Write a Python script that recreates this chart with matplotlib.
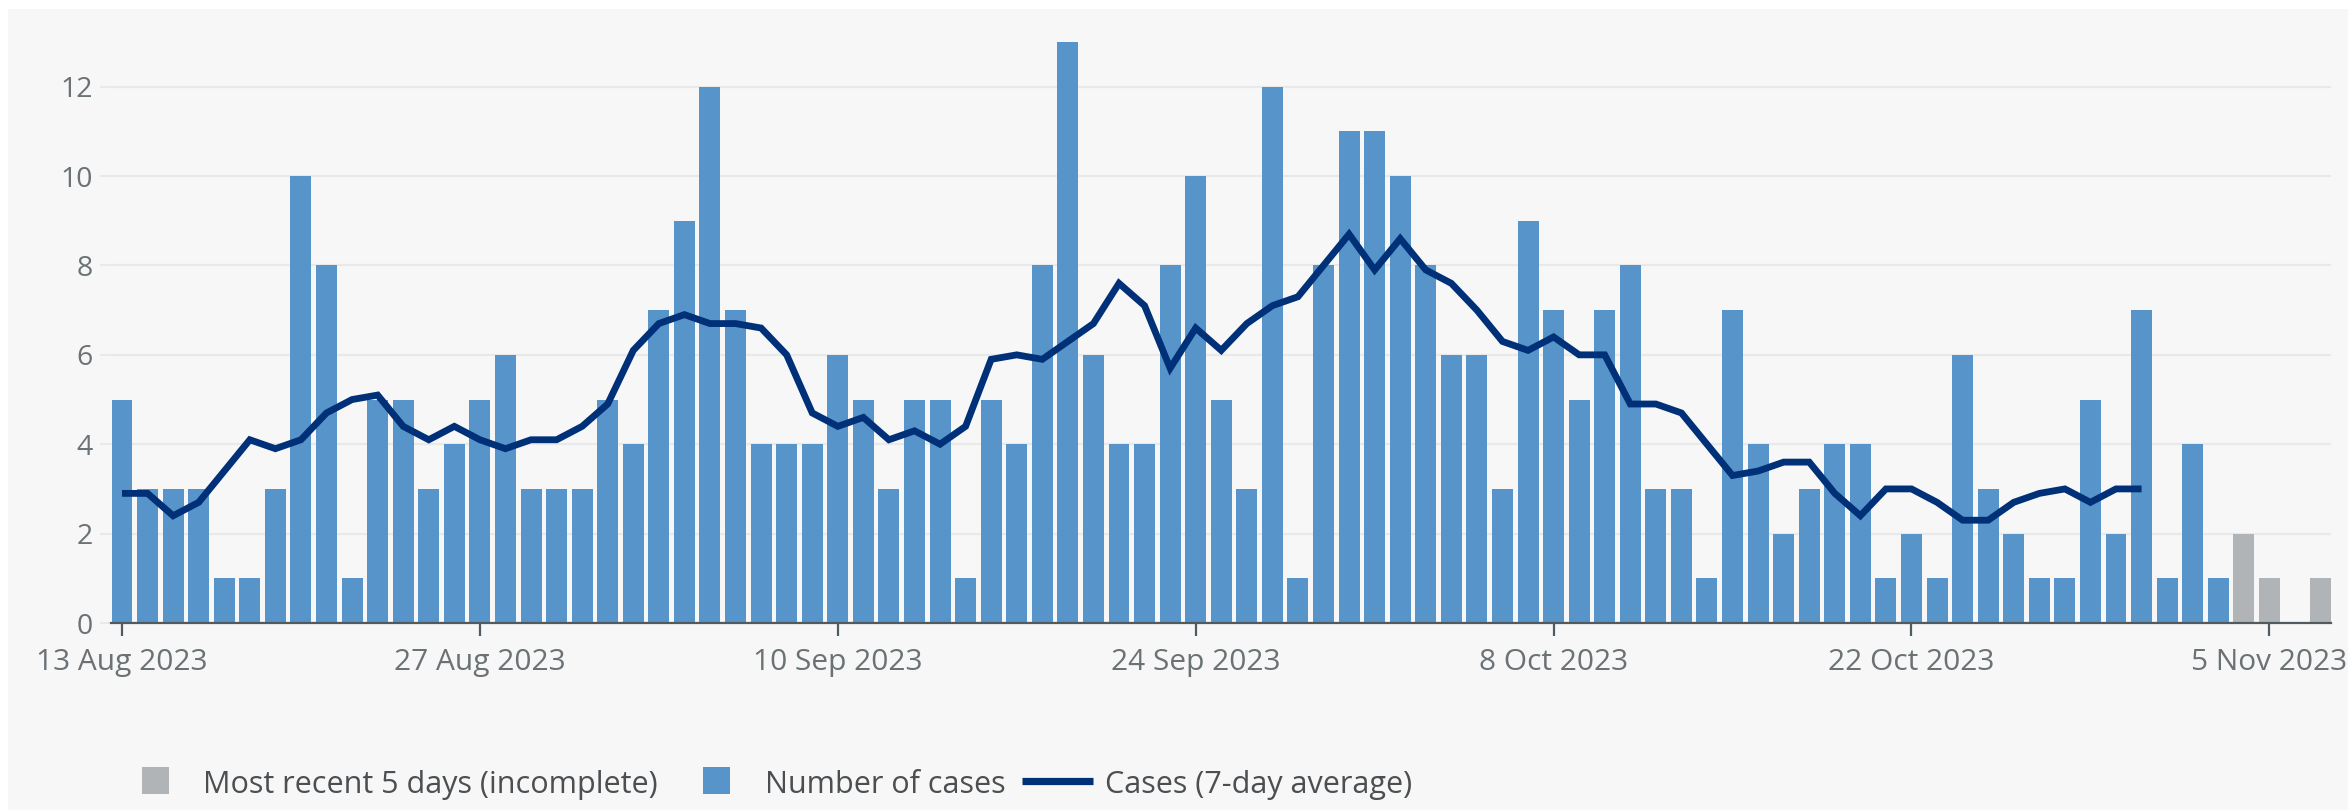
import matplotlib
matplotlib.use("Agg")
import matplotlib.pyplot as plt
import matplotlib.dates as mdates
from matplotlib.patches import Rectangle
from matplotlib.lines import Line2D
import pandas as pd
import numpy as np

plt.rcParams['font.family'] = ['Open Sans', 'DejaVu Sans']

# ---------------- data ----------------
start_date = "2023-08-13"
cases_complete = [
    # 13-31 Aug
    5, 3, 3, 3, 1, 1, 3, 10, 8, 1, 5, 5, 3, 4, 5, 6, 3, 3, 3,
    # 1-30 Sep
    5, 4, 7, 9, 12, 7, 4, 4, 4, 6, 5, 3, 5, 5, 1, 5, 4, 8, 13, 6,
    4, 4, 8, 10, 5, 3, 12, 1, 8, 11,
    # 1-31 Oct
    11, 10, 8, 6, 6, 3, 9, 7, 5, 7, 8, 3, 3, 1, 7, 4, 2, 3, 4, 4,
    1, 2, 1, 6, 3, 2, 1, 1, 5, 2, 7,
    # 1-3 Nov
    1, 4, 1,
]
cases_incomplete = [2, 1, 0, 1]   # 4-7 Nov
avg_7day = [
    # 13-31 Aug
    2.9, 2.9, 2.4, 2.7, 3.4, 4.1, 3.9, 4.1, 4.7, 5.0, 5.1, 4.4, 4.1, 4.4, 4.1, 3.9, 4.1, 4.1, 4.4,
    # 1-30 Sep
    4.9, 6.1, 6.7, 6.9, 6.7, 6.7, 6.6, 6.0, 4.7, 4.4, 4.6, 4.1, 4.3, 4.0, 4.4, 5.9, 6.0, 5.9, 6.3, 6.7,
    7.6, 7.1, 5.7, 6.6, 6.1, 6.7, 7.1, 7.3, 8.0, 8.7,
    # 1-31 Oct
    7.9, 8.6, 7.9, 7.6, 7.0, 6.3, 6.1, 6.4, 6.0, 6.0, 4.9, 4.9, 4.7, 4.0, 3.3, 3.4, 3.6, 3.6, 2.9, 2.4,
    3.0, 3.0, 2.7, 2.3, 2.3, 2.7, 2.9, 3.0, 2.7, 3.0, 3.0,
]
xtick_dates = ["2023-08-13", "2023-08-27", "2023-09-10", "2023-09-24",
               "2023-10-08", "2023-10-22", "2023-11-05"]
yticks = [0, 2, 4, 6, 8, 10, 12]
legend_labels = ["Most recent 5 days (incomplete)", "Number of cases", "Cases (7-day average)"]

# ---------------- styling ----------------
BLUE = "#5694ca"
GREY = "#b1b4b6"
NAVY = "#003078"
BG = "#f7f7f7"
TICK_TXT = "#6b7276"
LEG_TXT = "#4b4f52"
GRID = "#e9e9e9"

W, H = 2348, 810
fig = plt.figure(figsize=(W / 100, H / 100), dpi=100, facecolor="white")
fig.add_artist(Rectangle((8 / W, 0), 1, 1 - 9 / H, transform=fig.transFigure,
                         facecolor=BG, edgecolor="none", zorder=0))

ax_left, ax_right = 111, 2331
ax_bottom, ax_top = 623, 42
ax = fig.add_axes([ax_left / W, 1 - ax_bottom / H, (ax_right - ax_left) / W, (ax_bottom - ax_top) / H])
ax.set_facecolor("none")

dates_all = pd.date_range(start_date, periods=len(cases_complete) + len(cases_incomplete), freq="D")
d_complete = dates_all[:len(cases_complete)]
d_incomplete = dates_all[len(cases_complete):]
d_avg = dates_all[:len(avg_7day)]

x_complete = mdates.date2num(d_complete)
x_incomplete = mdates.date2num(d_incomplete)
x_avg = mdates.date2num(d_avg)

bw = 0.82
ax.bar(x_complete, cases_complete, width=bw, color=BLUE, zorder=2)
ax.bar(x_incomplete, cases_incomplete, width=bw, color=GREY, zorder=2)
ax.plot(x_avg, avg_7day, color=NAVY, lw=4.9, zorder=3, solid_joinstyle="miter", solid_capstyle="butt")

x0 = mdates.date2num(pd.Timestamp(start_date))
ax.set_xlim(x0 - 0.43, mdates.date2num(dates_all[-1]) + 0.41)
ax.set_ylim(0, 13)

ax.set_yticks(yticks)
ax.set_yticklabels([str(v) for v in yticks])
ax.yaxis.grid(True, color=GRID, lw=1.6, zorder=1)
ax.set_axisbelow(True)

xt = mdates.date2num(pd.to_datetime(xtick_dates))
ax.set_xticks(xt)
ax.set_xticklabels([pd.Timestamp(d).strftime("%-d %b %Y") for d in xtick_dates])

for s in ["top", "right", "left"]:
    ax.spines[s].set_visible(False)
ax.spines["bottom"].set_color("#505a5f")
ax.spines["bottom"].set_linewidth(1.6)
ax.spines["bottom"].set_zorder(4)

ax.tick_params(axis="x", length=9, width=1.6, color="#505a5f", pad=9,
               labelsize=21.5, labelcolor=TICK_TXT)
ax.tick_params(axis="y", length=8, width=1.4, color=GRID, pad=5,
               labelsize=20.5, labelcolor=TICK_TXT)

# ---------------- legend (bottom) ----------------
def fx(px):
    return px / W

def fy(py):
    return 1 - py / H

sq = 27
fs_leg = 22
fig.add_artist(Rectangle((fx(142), fy(794)), sq / W, sq / H, transform=fig.transFigure,
                         facecolor=GREY, edgecolor="none"))
fig.text(fx(203), fy(793), legend_labels[0], fontsize=fs_leg, color=LEG_TXT, va="baseline", ha="left")
fig.add_artist(Rectangle((fx(703), fy(794)), sq / W, sq / H, transform=fig.transFigure,
                         facecolor=BLUE, edgecolor="none"))
fig.text(fx(765), fy(793), legend_labels[1], fontsize=fs_leg, color=LEG_TXT, va="baseline", ha="left")
fig.add_artist(Line2D([fx(1022), fx(1093)], [fy(781), fy(781)], transform=fig.transFigure,
                      color=NAVY, lw=5.2, solid_capstyle="butt"))
fig.text(fx(1105), fy(793), legend_labels[2], fontsize=fs_leg, color=LEG_TXT, va="baseline", ha="left")

fig.savefig("out.png", dpi=100, facecolor=fig.get_facecolor())
